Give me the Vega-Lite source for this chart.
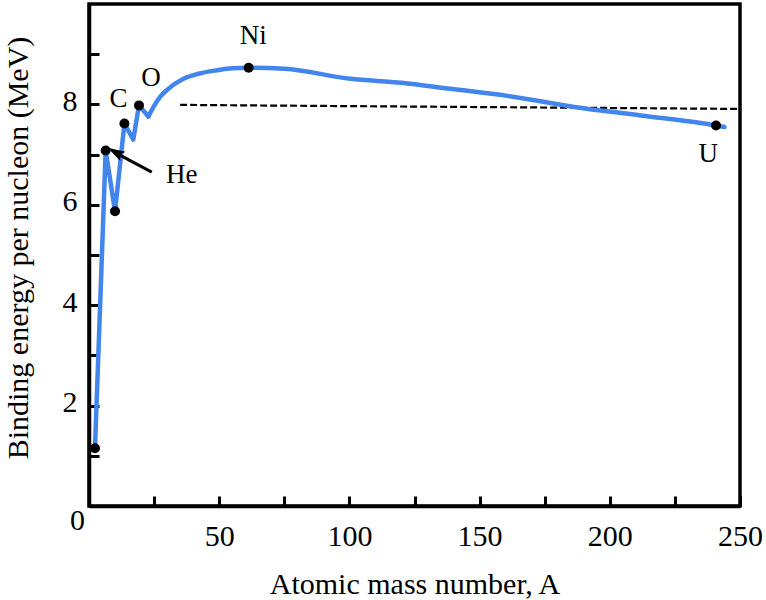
{
  "$schema": "https://vega.github.io/schema/vega-lite/v6.json",
  "width": 651,
  "height": 502,
  "autosize": "none",
  "padding": {"left": 89, "top": 4, "right": 26, "bottom": 94},
  "background": "white",
  "config": {
    "view": {"stroke": "black", "strokeWidth": 3.5},
    "font": "Liberation Serif",
    "axis": {
      "domainColor": "black", "domainWidth": 3.5,
      "tickColor": "black", "tickWidth": 3, "tickSize": -10,
      "grid": false, "labelFlush": false, "labelOverlap": false,
      "labelFont": "Liberation Serif", "labelFontSize": 30, "labelColor": "black",
      "titleFont": "Liberation Serif", "titleFontSize": 30, "titleFontWeight": "normal", "titleColor": "black"
    }
  },
  "datasets": {
    "zigzag": [
      {"A": 2.3, "BE": 1.15}, {"A": 6.4, "BE": 7.08}, {"A": 10.0, "BE": 5.87},
      {"A": 13.6, "BE": 7.62}, {"A": 17.0, "BE": 7.30}, {"A": 19.2, "BE": 7.98},
      {"A": 22.8, "BE": 7.76}
    ],
    "smooth": [
      {"A": 22.8, "BE": 7.76}, {"A": 25.0, "BE": 7.97}, {"A": 27.3, "BE": 8.15},
      {"A": 30.0, "BE": 8.29}, {"A": 36.3, "BE": 8.51}, {"A": 42.0, "BE": 8.61},
      {"A": 49.1, "BE": 8.68}, {"A": 55.0, "BE": 8.72}, {"A": 61.3, "BE": 8.73},
      {"A": 75.0, "BE": 8.71}, {"A": 100.4, "BE": 8.51}, {"A": 120.0, "BE": 8.43},
      {"A": 138.8, "BE": 8.31}, {"A": 160.7, "BE": 8.17}, {"A": 186.3, "BE": 7.95},
      {"A": 211.9, "BE": 7.78}, {"A": 240.8, "BE": 7.58}, {"A": 244.0, "BE": 7.55}
    ],
    "points": [
      {"A": 2.3, "BE": 1.15}, {"A": 6.4, "BE": 7.08}, {"A": 10.0, "BE": 5.87},
      {"A": 13.6, "BE": 7.62}, {"A": 19.2, "BE": 7.98}, {"A": 61.3, "BE": 8.73},
      {"A": 240.8, "BE": 7.58}
    ],
    "dashed": [{"A": 35, "BE": 7.99}, {"A": 250, "BE": 7.91}],
    "labels": [
      {"A": 63.1, "BE": 9.2, "name": "Ni"},
      {"A": 23.8, "BE": 8.36, "name": "O"},
      {"A": 11.3, "BE": 7.95, "name": "C"},
      {"A": 35.6, "BE": 6.43, "name": "He"},
      {"A": 237.8, "BE": 6.85, "name": "U"}
    ],
    "arrow": [{"A": 24.1, "BE": 6.65, "A2": 11.5, "BE2": 7.0}],
    "arrowhead": [{"A": 10.4, "BE": 7.04}]
  },
  "encoding": {
    "x": {
      "field": "A", "type": "quantitative",
      "scale": {"domain": [0, 250], "nice": false, "zero": false},
      "axis": {
        "title": "Atomic mass number, A",
        "values": [0, 25, 50, 75, 100, 125, 150, 175, 200, 225, 250],
        "labelExpr": "datum.value > 0 && datum.value % 50 == 0 ? datum.label : ''",
        "labelPadding": 25,
        "labelFont": "Liberation Serif", "labelFontSize": 30,
        "titleFont": "Liberation Serif", "titleFontSize": 30,
        "titleX": 325.5, "titleY": 87, "titleBaseline": "alphabetic"
      }
    },
    "y": {
      "field": "BE", "type": "quantitative",
      "scale": {"domain": [0, 10], "nice": false},
      "axis": {
        "title": "Binding energy per nucleon (MeV)",
        "values": [0, 1, 2, 3, 4, 5, 6, 7, 8, 9],
        "labelExpr": "datum.value % 2 == 0 ? datum.label : ''",
        "labelPadding": 22,
        "labelAlign": {"condition": {"test": "datum.value == 0", "value": "center"}, "value": "right"},
        "labelFont": "Liberation Serif", "labelFontSize": 30,
        "titleFont": "Liberation Serif", "titleFontSize": 30,
        "labelOffset": {"condition": {"test": "datum.value == 0", "value": 14}, "value": -3},
        "titleX": -62, "titleY": 243.5, "titleBaseline": "alphabetic", "titleAlign": "center", "titleAngle": -90
      }
    }
  },
  "layer": [
    {
      "data": {"name": "dashed"},
      "mark": {"type": "line", "color": "black", "strokeWidth": 2.2, "strokeDash": [7, 3]}
    },
    {
      "data": {"name": "zigzag"},
      "mark": {"type": "line", "color": "#4285ec", "strokeWidth": 4.5, "strokeJoin": "round", "strokeCap": "round"}
    },
    {
      "data": {"name": "smooth"},
      "mark": {"type": "line", "color": "#4285ec", "strokeWidth": 4.5, "strokeJoin": "round", "strokeCap": "round", "interpolate": "monotone"}
    },
    {
      "data": {"name": "points"},
      "mark": {"type": "point", "filled": true, "color": "black", "size": 100, "opacity": 1, "shape": "circle"}
    },
    {
      "data": {"name": "arrow"},
      "mark": {"type": "rule", "color": "black", "strokeWidth": 3},
      "encoding": {"x2": {"field": "A2"}, "y2": {"field": "BE2"}}
    },
    {
      "data": {"name": "arrowhead"},
      "mark": {"type": "point", "filled": true, "color": "black", "opacity": 1, "size": 380, "angle": 299,
               "shape": "M0,-1L0.55,0.8L0,0.45L-0.55,0.8Z"}
    },
    {
      "data": {"name": "labels"},
      "mark": {"type": "text", "font": "Liberation Serif", "fontSize": 27, "color": "black", "align": "center", "baseline": "alphabetic"},
      "encoding": {"text": {"field": "name"}}
    }
  ]
}
